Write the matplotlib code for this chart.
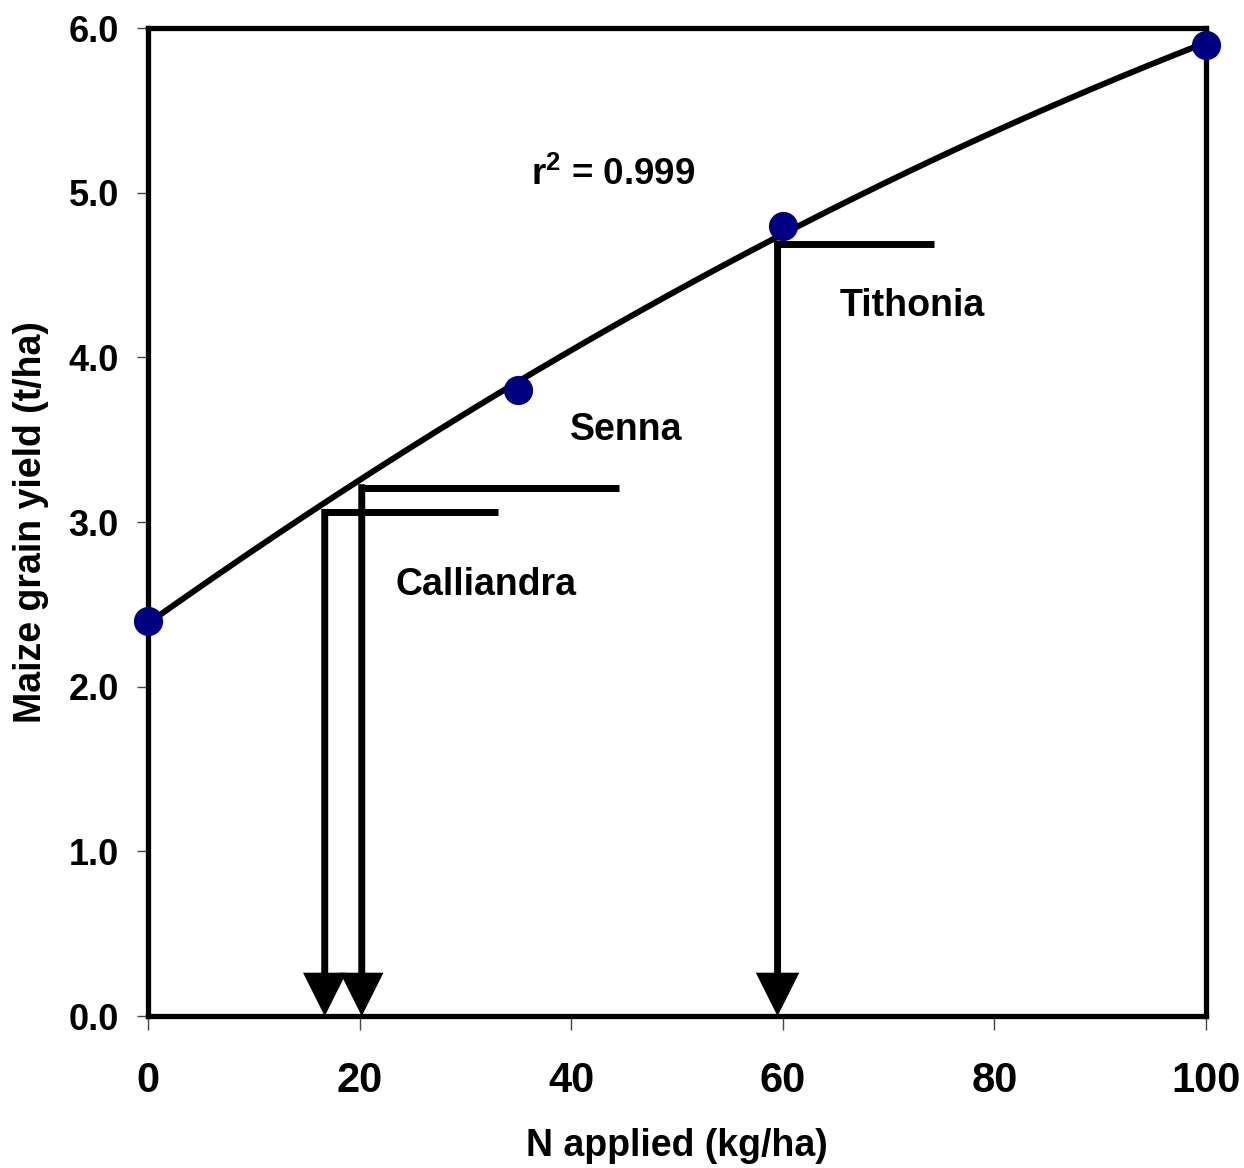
import numpy as np
import matplotlib
matplotlib.use("Agg")
import matplotlib.pyplot as plt

plt.rcParams['font.family'] = ['Liberation Sans', 'DejaVu Sans']
plt.rcParams['font.weight'] = 'bold'
plt.rcParams['mathtext.fontset'] = 'custom'
plt.rcParams['mathtext.rm'] = 'Liberation Sans:bold'
plt.rcParams['mathtext.bf'] = 'Liberation Sans:bold'

# measured points
n_applied = [0, 35, 60, 100]
grain_yield = [2.4, 3.8, 4.8, 5.9]

# equivalent N for each green manure
species = ["Calliandra", "Senna", "Tithonia"]
equiv_n = [16.7, 20.2, 59.5]
equiv_yield = [3.06, 3.21, 4.69]
line_end = [33.1, 44.5, 74.3]
label_x = [31.9, 45.2, 72.2]
label_y = [2.62, 3.56, 4.31]

r2_text = "0.999"

fig = plt.figure(figsize=(12.44, 11.68), dpi=100)
ax = fig.add_axes([0.119, 0.130, 0.8505, 0.846])

# quadratic trendline
coef = np.polyfit(n_applied, grain_yield, 2)
xs = np.linspace(0, 100, 200)
ax.plot(xs, np.polyval(coef, xs), color='black', lw=4.3, zorder=3)
ax.plot(n_applied, grain_yield, 'o', color='#000080', ms=20, zorder=4, clip_on=False)

for name, xn, yn, xe, lx, ly in zip(species, equiv_n, equiv_yield, line_end, label_x, label_y):
    ax.plot([xn, xe], [yn, yn], color='black', lw=5, solid_capstyle='butt', zorder=2)
    ax.annotate('', xy=(xn, 0), xytext=(xn, yn + 0.02),
                arrowprops=dict(arrowstyle='-|>', mutation_scale=58, lw=5,
                                color='black', shrinkA=0, shrinkB=0,
                                joinstyle='miter', capstyle='butt'),
                zorder=2)
    ax.text(lx, ly, name, fontsize=27, fontweight='bold', ha='center', va='center')

ax.text(44, 5.11, r'$\mathbf{r^{2}}$ = ' + r2_text, fontsize=26.5, fontweight='bold',
        ha='center', va='center')

ax.set_xlim(0, 100)
ax.set_ylim(0, 6)
ax.set_xticks([0, 20, 40, 60, 80, 100])
ax.set_yticks(np.arange(0, 6.01, 1.0))
ax.set_yticklabels([f"{v:.1f}" for v in np.arange(0, 6.01, 1.0)])

for s in ax.spines.values():
    s.set_linewidth(3.8)
ax.tick_params(axis='x', direction='out', length=10, width=1, color='#444444',
               labelsize=30, pad=22)
ax.tick_params(axis='y', direction='out', length=8, width=1, color='#444444',
               labelsize=26, pad=13)
for lab in ax.get_xticklabels() + ax.get_yticklabels():
    lab.set_fontweight('bold')

ax.set_xlabel("N applied (kg/ha)", fontsize=27, fontweight='bold', labelpad=20)
ax.set_ylabel("Maize grain yield (t/ha)", fontsize=27, fontweight='bold', labelpad=14)

fig.savefig("out.png", dpi=100)
